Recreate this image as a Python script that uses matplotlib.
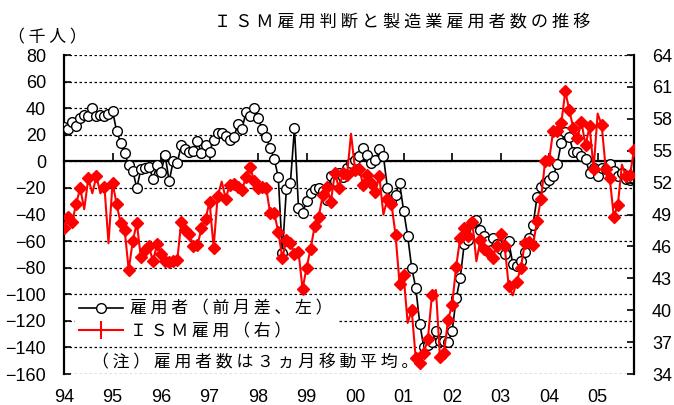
import numpy as np
import matplotlib
matplotlib.use("Agg")
import matplotlib.pyplot as plt
from matplotlib.lines import Line2D

plt.rcParams['font.family'] = ['Liberation Sans', 'Noto Sans CJK JP', 'DejaVu Sans']
JP = ['Noto Sans CJK JP', 'DejaVu Sans']

# 製造業雇用者（前月差、3ヵ月移動平均、千人） 1994年1月～2005年10月
koyo = [26, 24, 30, 27, 33, 35, 34, 40, 34, 35, 34, 36,
        38, 23, 14, 6, -3, -7, -20, -6, -5, -4, -13, -3,
        -8, 5, -15, 0, -1, 12, 9, 7, 8, 15, 6, 12,
        7, 16, 21, 21, 19, 16, 18, 28, 24, 37, 34, 40,
        33, 24, 18, 10, 2, -12, -69, -21, -16, 25, -35, -39,
        -30, -24, -21, -20, -22, -29, -11, -15, -9, -12, -5, -1,
        1, 4, 10, 5, -1, 1, 9, 4, -20, -30, -25, -16,
        -37, -56, -80, -95, -122, -140, -138, -136, -128, -135, -135, -136,
        -128, -103, -88, -62, -59, -46, -44, -52, -56, -60, -58, -62,
        -66, -70, -60, -77, -79, -75, -68, -58, -48, -27, -19, -16,
        -14, -11, -2, 14, 22, 18, 7, 7, 4, 2, -9, -5,
        -11, -5, -6, -2, -7, -11, -9, -13, -14, -13]

# ISM製造業 雇用指数
ism = [47.7, 48.8, 48.3, 50.0, 51.5, 49.5, 52.4, 51.0, 52.6, 51.0, 51.6, 46.3,
       52.0, 50.0, 48.2, 47.5, 43.8, 46.5, 48.2, 45.0, 45.7, 46.0, 44.6, 46.2,
       45.3, 44.6, 44.5, 44.6, 44.7, 48.3, 47.5, 47.2, 46.0, 46.1, 47.7, 48.6,
       50.2, 45.9, 50.7, 52.1, 50.5, 51.8, 51.9, 51.6, 51.3, 52.5, 53.5, 52.2,
       51.5, 51.6, 51.5, 49.1, 49.1, 47.4, 44.9, 46.6, 46.3, 45.3, 45.5, 42.0,
       44.0, 45.8, 47.9, 48.8, 50.8, 51.6, 50.2, 52.9, 51.5, 52.9, 52.7, 56.6,
       53.2, 53.3, 51.8, 52.7, 52.0, 51.1, 52.6, 49.0, 50.5, 50.0, 47.1, 42.5,
       43.3, 38.8, 40.0, 35.5, 35.0, 36.0, 37.3, 41.4, 41.9, 35.6, 36.0, 39.1,
       40.5, 44.1, 46.8, 47.7, 47.0, 48.3, 44.6, 46.6, 45.8, 45.5, 44.9, 46.0,
       47.2, 46.0, 42.3, 41.4, 42.7, 44.0, 46.3, 46.4, 46.1, 48.4, 50.5, 54.0,
       54.1, 56.9, 56.9, 57.6, 60.6, 58.8, 57.1, 56.2, 57.7, 55.5, 57.3, 53.3,
       58.5, 57.4, 53.3, 52.4, 48.8, 49.9, 53.7, 52.6, 52.7, 55.1]

years = ['94', '95', '96', '97', '98', '99', '00', '01', '02', '03', '04', '05']

# マーカーを付けない月（細いひげ状の点）
no_mark = [5, 7, 9, 11, 39, 71, 79, 85, 92, 102, 111, 132, 138]


def sp(s):
    # 字間を空ける
    return ' '.join(s)


x = np.arange(len(koyo))
mark_idx = [i for i in range(len(ism)) if i not in no_mark]

fig = plt.figure(figsize=(6.74, 4.05), dpi=100)
fig.patch.set_facecolor('white')
ax = fig.add_axes([0.095, 0.0765, 0.8457, 0.7875])

ax.plot(x, koyo, color='black', lw=1.2, marker='o', ms=7,
        mfc='white', mec='black', mew=1.0, zorder=3)
ax.set_xlim(0, len(koyo) - 1)
ax.set_ylim(-160, 80)
ax.set_yticks(np.arange(-160, 81, 20))
ax.grid(axis='y', color='black', ls=(0, (2, 2)), lw=0.9)
ax.set_axisbelow(True)

ax.spines['top'].set_visible(False)
ax.spines['right'].set_visible(False)
ax.spines['bottom'].set_position(('data', 0))
ax.spines['bottom'].set_linewidth(1.6)
ax.spines['left'].set_linewidth(1.6)
ax.set_xticks(np.arange(0, len(koyo), 12))
ax.tick_params(axis='x', direction='in', length=6, width=1.2, labelbottom=False)
ax.tick_params(axis='y', direction='in', length=5, width=1.2, pad=13, labelsize=13)

for k, yy in enumerate(years):
    ax.text(12 * k, -0.075, yy, transform=ax.get_xaxis_transform(),
            ha='center', va='center', fontsize=13)

ax2 = ax.twinx()
ax2.plot(x, ism, color='red', lw=1.5, marker='D', ms=5.8,
         mfc='red', mec='red', markevery=mark_idx, zorder=4)
ax2.set_ylim(34, 64)
ax2.set_yticks(np.arange(34, 65, 3))
for s in ['top', 'bottom', 'left']:
    ax2.spines[s].set_visible(False)
ax2.spines['right'].set_linewidth(1.6)
ax2.tick_params(axis='y', direction='in', length=5, width=1.2, pad=13, labelsize=13)

handles = [Line2D([], [], color='black', lw=1.2, marker='o', ms=7,
                  mfc='white', mec='black'),
           Line2D([], [], color='red', lw=1.5, marker='|', ms=13, mew=1.5)]
leg = ax2.legend(handles, [sp('雇用者（前月差、左）'), sp('ＩＳＭ雇用（右）')],
                 loc='center left', bbox_to_anchor=(0.02, 0.17),
                 prop={'family': JP, 'size': 12.2}, frameon=True,
                 framealpha=1, handlelength=2.6, handletextpad=0.4,
                 labelspacing=0.25, borderpad=0.2, borderaxespad=0)
leg.get_frame().set_edgecolor('white')
leg.get_frame().set_facecolor('white')
leg.get_frame().set_boxstyle('square', pad=0)

ax2.text(0.049, 0.038, sp('（注）雇用者数は３ヵ月移動平均。'),
         transform=ax2.transAxes, ha='left', va='center',
         family=JP, fontsize=12.2, zorder=5)

fig.text(402 / 674, 1 - 22 / 405, sp('ＩＳＭ雇用判断と製造業雇用者数の推移'),
         ha='center', va='center', family=JP, fontsize=12.4)
fig.text(8 / 674, 1 - 37 / 405, sp('（千人）'),
         ha='left', va='center', family=JP, fontsize=12.2)

fig.savefig('out.png', dpi=100)
